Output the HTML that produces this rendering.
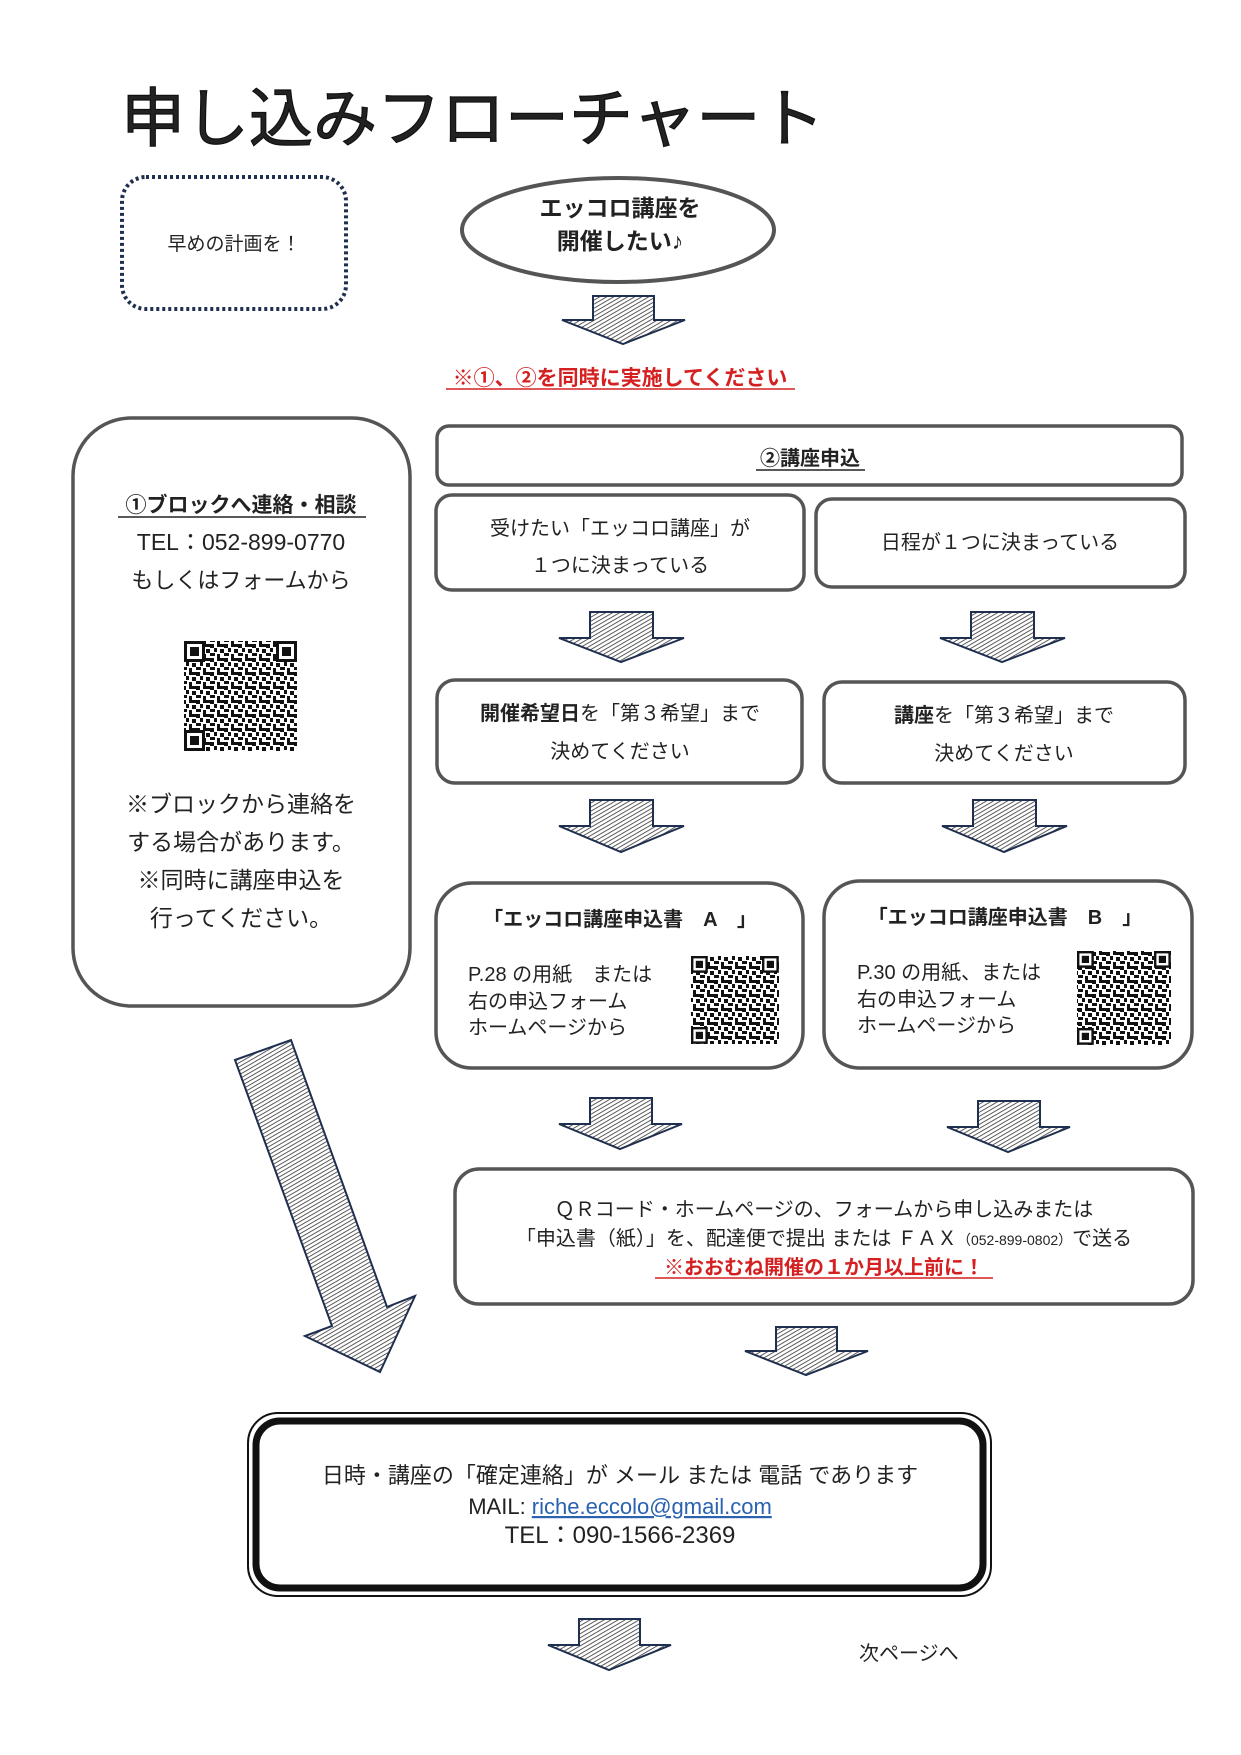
<!DOCTYPE html>
<html><head><meta charset="utf-8"><style>
html,body{margin:0;padding:0;background:#fff}
svg{display:block}
text{font-family:"Liberation Sans","Noto Sans CJK JP",sans-serif;fill:#222}
</style></head><body>
<svg width="1241" height="1755" viewBox="0 0 1241 1755" xmlns="http://www.w3.org/2000/svg">
<defs>
<pattern id="h" width="3.5" height="3.5" patternUnits="userSpaceOnUse" patternTransform="rotate(60)">
<rect width="4" height="4" fill="#fff"/><line x1="0" y1="0" x2="0" y2="4" stroke="#333" stroke-width="1.6"/>
</pattern>
<pattern id="qr" width="14" height="14" patternUnits="userSpaceOnUse">
<rect width="14" height="14" fill="#fff"/>
<rect x="0" y="0" width="4" height="4" fill="#111"/><rect x="7" y="0" width="7" height="3" fill="#111"/>
<rect x="4" y="4" width="3" height="4" fill="#111"/><rect x="10" y="5" width="4" height="4" fill="#111"/>
<rect x="0" y="9" width="5" height="3" fill="#111"/><rect x="7" y="10" width="3" height="4" fill="#111"/>
</pattern>
<g id="finder"><rect x="0" y="0" width="21" height="21" fill="#111"/><rect x="3" y="3" width="15" height="15" fill="#fff"/><rect x="6" y="6" width="9" height="9" fill="#111"/></g>
</defs>

<text x="121" y="141" font-size="64" fill="#111" stroke="#111" stroke-width="1.2">申し込みフローチャート</text>

<rect x="122" y="177" width="224" height="132" rx="24" fill="none" stroke="#1f2f4f" stroke-width="4" stroke-dasharray="3,3"/>
<text x="234" y="250" font-size="19" text-anchor="middle">早めの計画を！</text>

<ellipse cx="618" cy="230" rx="156" ry="52" fill="#fff" stroke="#555" stroke-width="4"/>
<text x="620" y="216" font-size="23" font-weight="bold" text-anchor="middle">エッコロ講座を</text>
<text x="620" y="249" font-size="23" font-weight="bold" text-anchor="middle">開催したい♪</text>

<g fill="url(#h)" stroke="#1f2f4f" stroke-width="2">
<polygon points="593,296 654,296 654,320 685,320 623,344 562,320 593,320"/>
<polygon points="590,612 653,612 653,638 684,638 621,662 559,638 590,638"/>
<polygon points="971,612 1034,612 1034,638 1065,638 1002,662 940,638 971,638"/>
<polygon points="590,800 653,800 653,826 684,826 621,852 559,826 590,826"/>
<polygon points="973,800 1036,800 1036,826 1067,826 1004,852 942,826 973,826"/>
<polygon points="590,1098 652,1098 652,1124 682,1124 620,1149 559,1124 590,1124"/>
<polygon points="978,1101 1040,1101 1040,1127 1070,1127 1008,1152 947,1127 978,1127"/>
<polygon points="776,1327 837,1327 837,1351 868,1351 806,1375 745,1351 776,1351"/>
<polygon points="579,1619 640,1619 640,1645 671,1645 609,1670 548,1645 579,1645"/>
<polygon points="235,1060 291,1040 387,1307 415,1296 380,1372 305,1336 332,1326"/>
</g>

<text x="620" y="385" font-size="21" font-weight="bold" style="fill:#d42020" text-anchor="middle">※①、②を同時に実施してください</text>
<line x1="446" y1="389" x2="795" y2="389" stroke="#d42020" stroke-width="1.5"/>

<g fill="#fff" stroke="#555" stroke-width="3.5">
<rect x="73" y="418" width="337" height="588" rx="58"/>
<rect x="437" y="426" width="745" height="59" rx="12"/>
<rect x="436" y="495" width="368" height="95" rx="16"/>
<rect x="816" y="499" width="369" height="88" rx="16"/>
<rect x="437" y="680" width="365" height="103" rx="18"/>
<rect x="824" y="682" width="361" height="101" rx="18"/>
<rect x="436" y="883" width="367" height="185" rx="36"/>
<rect x="824" y="881" width="368" height="187" rx="36"/>
<rect x="455" y="1169" width="738" height="135" rx="24"/>
</g>

<text x="241" y="512" font-size="21" text-anchor="middle" font-weight="bold">①ブロックへ連絡・相談</text>
<line x1="118" y1="517" x2="366" y2="517" stroke="#222" stroke-width="1.5"/>
<text x="241" y="550" font-size="23" text-anchor="middle">TEL：052-899-0770</text>
<text x="241" y="588" font-size="22" text-anchor="middle">もしくはフォームから</text>
<rect x="184" y="641" width="113" height="110" fill="url(#qr)"/>
<use href="#finder" x="184" y="641"/><use href="#finder" x="276" y="641"/><use href="#finder" x="184" y="730"/>
<text x="241" y="812" font-size="23" text-anchor="middle">※ブロックから連絡を</text>
<text x="241" y="850" font-size="23" text-anchor="middle">する場合があります。</text>
<text x="241" y="888" font-size="23" text-anchor="middle">※同時に講座申込を</text>
<text x="241" y="926" font-size="23" text-anchor="middle">行ってください。</text>

<text x="810" y="465" font-size="20" text-anchor="middle" font-weight="bold">②講座申込</text>
<line x1="756" y1="470" x2="865" y2="470" stroke="#222" stroke-width="1.5"/>

<text x="620" y="535" font-size="20" text-anchor="middle">受けたい「エッコロ講座」が</text>
<text x="620" y="572" font-size="20" text-anchor="middle">１つに決まっている</text>
<text x="1000" y="549" font-size="20" text-anchor="middle">日程が１つに決まっている</text>

<text x="620" y="720" font-size="20" text-anchor="middle"><tspan font-weight="bold">開催希望日</tspan>を「第３希望」まで</text>
<text x="620" y="758" font-size="20" text-anchor="middle">決めてください</text>
<text x="1004" y="722" font-size="20" text-anchor="middle"><tspan font-weight="bold">講座</tspan>を「第３希望」まで</text>
<text x="1004" y="760" font-size="20" text-anchor="middle">決めてください</text>

<text x="620" y="926" font-size="20" text-anchor="middle" font-weight="bold">「エッコロ講座申込書　A　」</text>
<text x="468" y="981" font-size="20">P.28 の用紙　または</text>
<text x="468" y="1008" font-size="20">右の申込フォーム</text>
<text x="468" y="1034" font-size="20">ホームページから</text>
<rect x="691" y="956" width="88" height="88" fill="url(#qr)"/>
<use href="#finder" transform="translate(691 956) scale(0.8)"/>
<use href="#finder" transform="translate(762 956) scale(0.8)"/>
<use href="#finder" transform="translate(691 1027) scale(0.8)"/>

<text x="1005" y="924" font-size="20" text-anchor="middle" font-weight="bold">「エッコロ講座申込書　B　」</text>
<text x="857" y="979" font-size="20">P.30 の用紙、または</text>
<text x="857" y="1006" font-size="20">右の申込フォーム</text>
<text x="857" y="1032" font-size="20">ホームページから</text>
<rect x="1077" y="951" width="94" height="94" fill="url(#qr)"/>
<use href="#finder" transform="translate(1077 951) scale(0.8)"/>
<use href="#finder" transform="translate(1154 951) scale(0.8)"/>
<use href="#finder" transform="translate(1077 1028) scale(0.8)"/>

<text x="824" y="1216" font-size="20" text-anchor="middle">ＱＲコード・ホームページの、フォームから申し込みまたは</text>
<text x="824" y="1245" font-size="20" text-anchor="middle">「申込書（紙）」を、配達便で提出 または ＦＡＸ<tspan font-size="14">（052-899-0802）</tspan>で送る</text>
<text x="824" y="1274" font-size="20" text-anchor="middle" font-weight="bold" style="fill:#d42020">※おおむね開催の１か月以上前に！</text>
<line x1="655" y1="1278" x2="993" y2="1278" stroke="#d42020" stroke-width="1.5"/>

<rect x="248" y="1413" width="743" height="183" rx="30" fill="#fff" stroke="#111" stroke-width="2"/>
<rect x="256" y="1421" width="727" height="167" rx="24" fill="none" stroke="#111" stroke-width="7"/>
<text x="620" y="1483" font-size="22" text-anchor="middle">日時・講座の「確定連絡」が メール または 電話 であります</text>
<text x="620" y="1514" font-size="22" text-anchor="middle">MAIL: <tspan style="fill:#2a62b0" text-decoration="underline">riche.eccolo@gmail.com</tspan></text>
<text x="620" y="1543" font-size="24" text-anchor="middle">TEL：090-1566-2369</text>

<text x="859" y="1660" font-size="20">次ページへ</text>
</svg>
</body></html>
